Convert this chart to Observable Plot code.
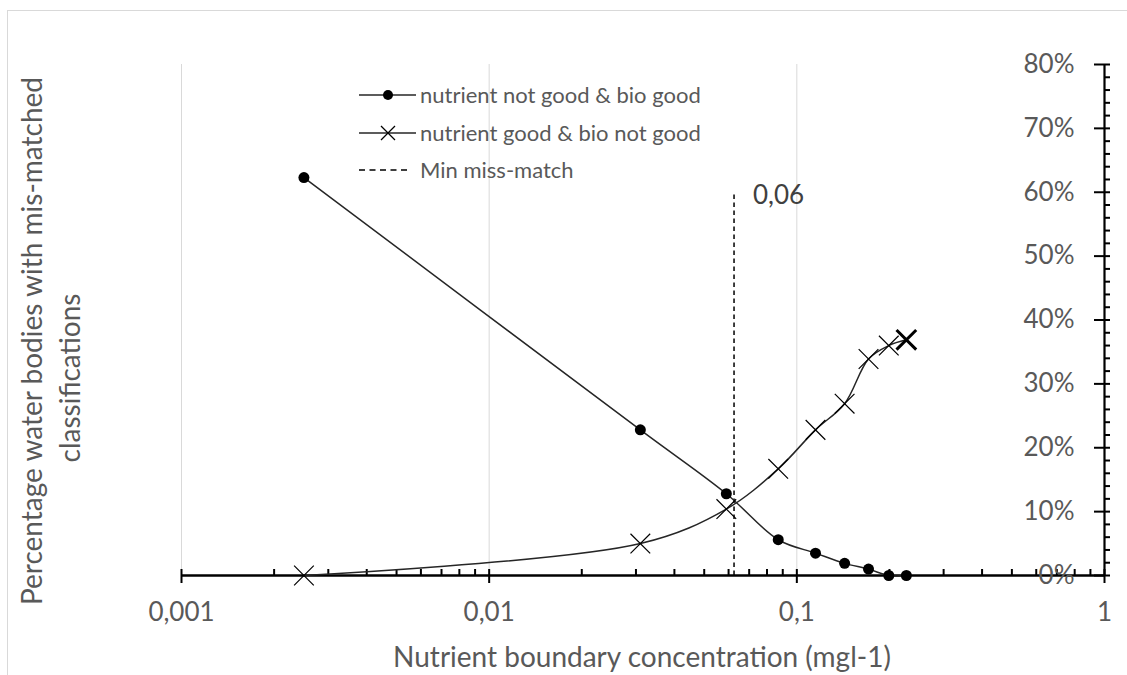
<!DOCTYPE html>
<html><head><meta charset="utf-8">
<script src="https://cdn.jsdelivr.net/npm/d3@7"></script>
<script src="https://cdn.jsdelivr.net/npm/@observablehq/plot@0.6"></script>
<style>
html,body{margin:0;padding:0;background:#fff;}
#chart{position:relative;width:1127px;height:675px;overflow:hidden;}
</style></head><body><div id="chart"></div>
<script>
// ---- data ----
const concentration = [0.0025, 0.031, 0.059, 0.087, 0.115, 0.143, 0.171, 0.199, 0.227];
const nutrientNotGoodBioGood = [0.623, 0.228, 0.128, 0.056, 0.035, 0.019, 0.010, 0.000, 0.000];
const nutrientGoodBioNotGood = [0.000, 0.050, 0.104, 0.167, 0.228, 0.269, 0.339, 0.360, 0.369];
const minMismatch = 0.0625;
const minMismatchLabel = "0,06";
const minMismatchTop = 0.6;
const seriesNames = ["nutrient not good & bio good", "nutrient good & bio not good", "Min miss-match"];
const xMajor = [0.001, 0.01, 0.1, 1];
const xTickLabels = ["0,001", "0,01", "0,1", "1"];
const xGrid = [0.001, 0.01, 0.1];
const xMinorMultipliers = [2, 3, 4, 5, 6, 7, 8, 9];
const yMajor = [0, 0.1, 0.2, 0.3, 0.4, 0.5, 0.6, 0.7, 0.8];
const yTickLabels = ["0%", "10%", "20%", "30%", "40%", "50%", "60%", "70%", "80%"];
const yMinorStep = 0.02;
const xTitle = "Nutrient boundary concentration (mgl-1)";
const yTitleLines = ["Percentage water bodies with mis-matched", "classifications"];

const xMinor = xGrid.flatMap(d => xMinorMultipliers.map(m => +(m * d).toPrecision(6)));
const yMinor = d3.range(0, 41).map(i => +(i * yMinorStep).toFixed(4)).filter(v => Math.abs(Math.round(v * 10) - v * 10) > 1e-6);

const s1 = concentration.map((x, i) => ({x, y: nutrientNotGoodBioGood[i]}));
const s2 = concentration.map((x, i) => ({x, y: nutrientGoodBioNotGood[i]}));

const TXT = "#595959";
const LINE = "#262626";
const FONT = "Lato, 'Open Sans', sans-serif";

const chart = Plot.plot({
  width: 1127, height: 675,
  marginLeft: 181, marginRight: 23, marginTop: 64, marginBottom: 100,
  x: {type: "log", domain: [0.001, 1], axis: null},
  y: {domain: [0, 0.8], axis: null},
  style: {background: "white", fontFamily: FONT, overflow: "visible"},
  marks: [
    Plot.ruleX(xGrid, {x: d => d, stroke: "#d9d9d9", strokeWidth: 1}),
    // axis lines
    Plot.ruleY([0], {y: d => d, x1: () => 0.001, x2: () => 1, stroke: "#000", strokeWidth: 2.5}),
    Plot.ruleX([1], {x: d => d, y1: () => 0, y2: () => 0.8, stroke: "#000", strokeWidth: 2.2}),
    // x ticks
    Plot.ruleX(xMajor, {x: d => d, y1: () => 0, y2: () => 0, insetTop: 8, insetBottom: 6, stroke: "#000", strokeWidth: 2}),
    Plot.ruleX(xMinor, {x: d => d, y1: () => 0, y2: () => 0, insetTop: 0, insetBottom: 6, stroke: "#000", strokeWidth: 2}),
    // y ticks
    Plot.ruleY(yMajor, {y: d => d, x1: () => 1, x2: () => 1, insetLeft: -10, insetRight: -6, stroke: "#000", strokeWidth: 2}),
    Plot.ruleY(yMinor, {y: d => d, x1: () => 1, x2: () => 1, insetLeft: 0, insetRight: -6, stroke: "#000", strokeWidth: 2}),
    // tick labels
    Plot.text(xMajor, {x: d => d, y: () => 0, text: (d, i) => xTickLabels[i], dy: 45, lineAnchor: "bottom", fontSize: 26, fill: TXT}),
    Plot.text(yMajor, {x: () => 1, y: d => d, text: (d, i) => yTickLabels[i], dx: -30, textAnchor: "end", lineAnchor: "middle", fontSize: 26, fill: TXT}),
    // min mismatch
    Plot.ruleX([minMismatch], {x: d => d, y1: () => 0, y2: () => minMismatchTop, stroke: "#000", strokeWidth: 1.5, strokeDasharray: "4.5,3.5"}),
    Plot.text([minMismatch], {x: d => d, y: () => minMismatchTop, text: () => minMismatchLabel, dx: 19, dy: 3, textAnchor: "start", lineAnchor: "middle", fontSize: 26, fill: "#404040"}),
    // series
    Plot.line(s1, {x: "x", y: "y", curve: "catmull-rom", stroke: LINE, strokeWidth: 1.5}),
    Plot.line(s2, {x: "x", y: "y", curve: "catmull-rom", stroke: LINE, strokeWidth: 1.5}),
    Plot.dot(s1, {x: "x", y: "y", r: 5.5, fill: "#000", stroke: "none"}),
    Plot.dot(s2.slice(0, -1), {x: "x", y: "y", r: 9, symbol: "times", stroke: "#000", strokeWidth: 1.2}),
    Plot.dot(s2.slice(-1), {x: "x", y: "y", r: 9, symbol: "times", stroke: "#000", strokeWidth: 3})
  ]
});

const svg = d3.select(chart);
// border
svg.append("rect").attr("x", 7.5).attr("y", 10.5).attr("width", 1300).attr("height", 1000)
  .attr("fill", "none").attr("stroke", "#d9d9d9").attr("stroke-width", 1);
// y title
const yt = svg.append("g").attr("font-family", FONT).attr("font-size", 28).attr("fill", TXT).attr("text-anchor", "middle");
yt.append("text").attr("transform", "translate(42,341) rotate(-90)").text(yTitleLines[0]);
yt.append("text").attr("transform", "translate(80,378) rotate(-90)").text(yTitleLines[1]);
// x title
svg.append("text").attr("x", 642).attr("y", 667).attr("text-anchor", "middle")
  .attr("font-family", FONT).attr("font-size", 28).attr("fill", TXT).text(xTitle);
// legend
const lg = svg.append("g").attr("font-family", FONT).attr("font-size", 22).attr("fill", TXT);
const rows = [95, 133, 170];
rows.forEach((ry, i) => {
  const g = lg.append("g").attr("transform", `translate(0,${ry})`);
  if (i < 2) {
    g.append("line").attr("x1", 359).attr("x2", 416).attr("y1", 0).attr("y2", 0).attr("stroke", LINE).attr("stroke-width", 1.5);
  } else {
    g.append("line").attr("x1", 359).attr("x2", 411).attr("y1", 0).attr("y2", 0).attr("stroke", "#000").attr("stroke-width", 1.5).attr("stroke-dasharray", "6,4.5");
  }
  if (i === 0) g.append("circle").attr("cx", 388).attr("cy", 0).attr("r", 5).attr("fill", "#000");
  if (i === 1) g.append("path").attr("d", "M381,-7L395,7M381,7L395,-7").attr("stroke", "#000").attr("stroke-width", 1.3).attr("fill", "none");
  g.append("text").attr("x", 420).attr("y", 0).attr("dy", "0.35em").attr("text-anchor", "start").text(seriesNames[i]);
});

document.getElementById("chart").appendChild(chart);
</script>
</body></html>
